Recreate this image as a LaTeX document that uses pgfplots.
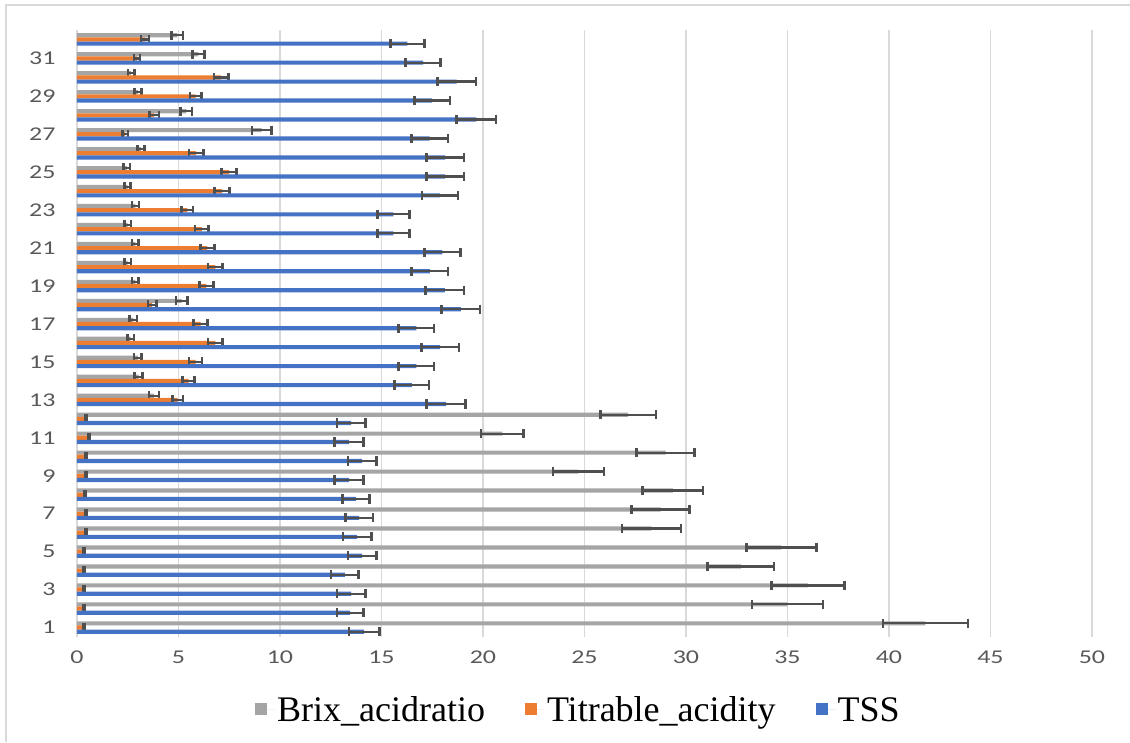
\documentclass[border=0pt]{standalone}
\usepackage{fontspec}
\setmainfont{Liberation Serif}
\newfontfamily\tickfont[FakeStretch=1.33]{Carlito}
\usepackage{pgfplots}
\usepackage{pgfplotstable}
\pgfplotsset{compat=1.18}
\definecolor{tssblue}{HTML}{4472C4}
\definecolor{taorange}{HTML}{ED7D31}
\definecolor{bagray}{HTML}{A5A5A5}
\definecolor{errgray}{HTML}{4F4F4F}
\definecolor{gridgray}{HTML}{D9D9D9}
\definecolor{tickgray}{HTML}{595959}

\pgfplotstableread{
cat TSS TSSe TA TAe BA BAe
1 14.15 0.75 0.35 0.03 41.8 2.1
2 13.45 0.65 0.35 0.03 35.0 1.75
3 13.5 0.7 0.35 0.03 36.0 1.8
4 13.2 0.68 0.35 0.03 32.7 1.64
5 14.05 0.7 0.35 0.03 34.7 1.73
6 13.8 0.7 0.45 0.03 28.3 1.45
7 13.9 0.68 0.45 0.03 28.75 1.43
8 13.75 0.66 0.40 0.03 29.35 1.48
9 13.4 0.7 0.45 0.03 24.7 1.26
10 14.05 0.7 0.45 0.03 29.0 1.43
11 13.4 0.7 0.60 0.03 20.95 1.04
12 13.5 0.7 0.45 0.03 27.15 1.37
13 18.18 0.95 4.96 0.27 3.79 0.25
14 16.5 0.85 5.5 0.29 3.03 0.19
15 16.72 0.87 5.84 0.32 3.0 0.19
16 17.89 0.92 6.82 0.36 2.64 0.16
17 16.72 0.87 6.09 0.34 2.78 0.18
18 18.91 0.95 3.7 0.21 5.16 0.28
19 18.12 0.94 6.37 0.34 2.87 0.17
20 17.38 0.9 6.82 0.36 2.5 0.16
21 18.0 0.88 6.42 0.34 2.87 0.17
22 15.58 0.79 6.15 0.33 2.5 0.16
23 15.58 0.79 5.44 0.28 2.88 0.18
24 17.88 0.88 7.15 0.37 2.49 0.14
25 18.14 0.92 7.49 0.37 2.46 0.16
26 18.14 0.92 5.87 0.35 3.15 0.18
27 17.37 0.9 2.37 0.14 9.1 0.47
28 19.67 0.97 3.8 0.23 5.39 0.28
29 17.5 0.87 5.85 0.29 3.0 0.17
30 18.7 0.95 7.1 0.36 2.67 0.16
31 17.05 0.86 2.95 0.15 5.98 0.3
32 16.27 0.84 3.35 0.2 4.95 0.28
}\datatable

\begin{document}
\begin{tikzpicture}[x=1pt,y=1pt]
\path[use as bounding box] (0,0) rectangle (1130,742);
\draw[gridgray, line width=2.5pt] (6,0) -- (6,737) -- (1130,737);
\begin{axis}[
  at={(77pt,105pt)}, anchor=south west,
  scale only axis, width=1015pt, height=607pt,
  xbar, bar width=0.22,
  xmin=0, xmax=50, ymin=0.5, ymax=32.5,
  xtick={0,5,...,50},
  ytick={1,3,...,31},
  major tick length=0pt,
  axis line style={draw=none},
  xmajorgrids, major grid style={draw=gridgray, line width=1.8pt},
  /pgf/number format/assume math mode=true,
  ticklabel style={font=\tickfont\fontsize{19.5}{22}\selectfont, text=tickgray},
  yticklabel style={xshift=-18pt},
  xticklabel style={yshift=-10pt},
  error bars/x dir=both, error bars/x explicit,
  error bars/error bar style={draw=errgray, line width=2.2pt},
  error bars/error mark=|,
  error bars/error mark options={draw=errgray, line width=2.6pt, mark size=4.6pt},
  legend columns=3,
  legend style={at={(0.494,-0.12)}, anchor=center, draw=none, fill=none,
    font=\fontsize{36}{42}\selectfont,
    /tikz/every even column/.append style={column sep=38pt}},
  legend image code/.code={\path (0pt,0pt) -- (20pt,0pt); \fill[#1] (0pt,-5pt) rectangle (12pt,7pt);},
]
\addplot[fill=bagray, draw=none, bar shift=0.22] table[x=BA, y=cat, x error=BAe] {\datatable};
\addplot[fill=taorange, draw=none, bar shift=0] table[x=TA, y=cat, x error=TAe] {\datatable};
\addplot[fill=tssblue, draw=none, bar shift=-0.22] table[x=TSS, y=cat, x error=TSSe] {\datatable};
\legend{Brix\_acidratio, Titrable\_acidity, TSS}
\end{axis}
\end{tikzpicture}
\end{document}
